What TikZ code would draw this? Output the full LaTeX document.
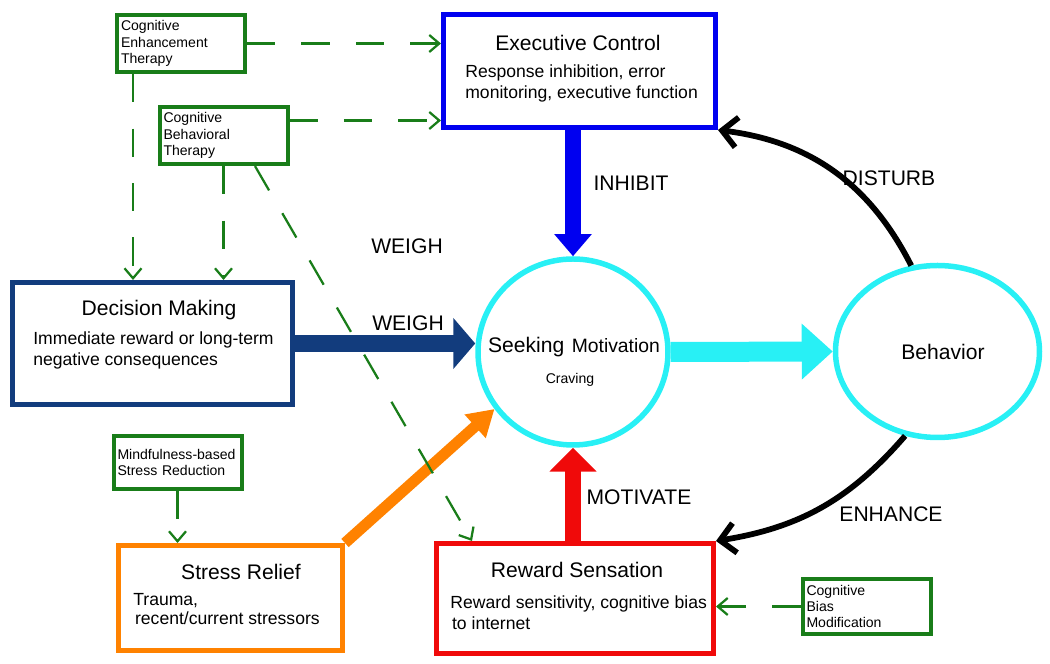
\documentclass[tikz,border=0pt]{standalone}
\usepackage{fontspec}
\setmainfont{Liberation Sans}
\usepackage{xcolor}
\usetikzlibrary{arrows.meta,positioning,calc,shapes.geometric}

\definecolor{ecblue}{RGB}{0,0,240}
\definecolor{dmnavy}{RGB}{18,60,125}
\definecolor{seekcyan}{RGB}{40,240,245}
\definecolor{rsred}{RGB}{240,10,10}
\definecolor{srorange}{RGB}{255,130,0}
\definecolor{tgreen}{RGB}{25,125,25}

\begin{document}
\begin{tikzpicture}[
  box/.style={draw=#1, line width=1mm},
  tbox/.style={draw=tgreen, line width=0.8mm, align=left, text width=24mm, inner xsep=0.8mm, font=\fontsize{8}{9.2}\selectfont},
  oval/.style={ellipse, draw=seekcyan, line width=1.1mm, inner sep=0pt},
  ttl/.style={font=\fontsize{12}{14}\selectfont},
  desc/.style={anchor=west, align=left, inner sep=0pt, font=\fontsize{10}{12}\selectfont},
  lbl/.style={font=\fontsize{12}{14}\selectfont},
  curv/.style={-{Straight Barb[length=3mm, width=6mm]}, line width=1.15mm},
  ther/.style={-{Straight Barb[length=2mm, width=3.4mm]}, draw=tgreen, line width=0.45mm, dash pattern=on 16pt off 15pt}]
\useasboundingbox (0,0) rectangle (21,13.28);
% main boxes
\node[box=ecblue, minimum width=5.44cm, minimum height=2.26cm] (ec) at (11.59,11.86) {};
\node[box=dmnavy, minimum width=5.6cm, minimum height=2.44cm] (dm) at (3.05,6.41) {};
\node[box=rsred, minimum width=5.54cm, minimum height=2.2cm] (rs) at (11.5,1.31) {};
\node[box=srorange, minimum width=4.48cm, minimum height=2.1cm] (sr) at (4.61,1.32) {};
\node[oval, minimum width=3.8cm, minimum height=3.72cm] (seek) at (11.46,6.24) {};
\node[oval, minimum width=4.08cm, minimum height=3.44cm] (beh) at (18.75,6.25) {};
% therapies
\node[tbox, minimum height=1.14cm] (cet) at (3.62,12.41) {Cognitive\\Enhancement\\Therapy};
\node[tbox, minimum height=1.14cm] (cbt) at (4.47,10.57) {Cognitive\\Behavioral\\Therapy};
\node[tbox, minimum height=1.06cm] (mbsr) at (3.55,4.03) {Mindfulness-based\\Stress Reduction};
\node[tbox, minimum height=1.1cm] (cbm) at (17.33,1.15) {Cognitive\\Bias\\Modification};
% texts in boxes
\node[ttl] (ectitle) at (11.56,12.42) {Executive Control};
\node[desc] (ecdesc) at (9.3,11.61) {Response inhibition, error\\monitoring, executive function};
\node[ttl] (dmtitle) at (3.18,7.08) {Decision Making};
\node[desc] (dmdesc) at (0.66,6.27) {Immediate reward or long-term\\negative consequences};
\node[ttl] (rstitle) at (11.54,1.88) {Reward Sensation};
\node[desc] (rsdesc) at (9.0,1.02) {Reward sensitivity, cognitive bias\\\hspace{0.1em}to internet};
\node[ttl] (srtitle) at (4.82,1.84) {Stress Relief};
\node[desc, font=\fontsize{10}{10.5}\selectfont] (srdesc) at (2.66,1.1) {Trauma,\\\hspace{0.1em}recent/current stressors};
\node[ttl] (seektxt) at (11.48,6.34) {Seeking\hspace{0.15cm}{\fontsize{11}{13}\selectfont Motivation}};
\node[font=\fontsize{8}{10}\selectfont] (crav) at (11.4,5.68) {Craving};
\node[ttl] (behtxt) at (18.86,6.24) {Behavior};
% block arrows
\draw[-{Triangle[length=4.4mm, width=10mm]}, line width=3.5mm, dmnavy] (dm.east) -- (dm.east -| seek.west);
\draw[-{Triangle[length=4.4mm, width=7.2mm]}, line width=3.2mm, ecblue] (seek.north |- ec.south) -- (seek.north);
\draw[-{Triangle[length=4.8mm, width=9.2mm]}, line width=3.2mm, rsred] (seek.south |- rs.north) -- (seek.south);
\draw[-{Triangle[length=6.2mm, width=10.8mm]}, line width=4mm, seekcyan] (seek.east) -- (beh.west);
\draw[-{Triangle[length=5.2mm, width=6mm]}, line width=2.2mm, srorange] (sr.north east) -- (seek.216);
% feedback
\draw[curv] (beh.107) to[bend right=28] (ec.south east);
\draw[curv] (beh.249) to[bend left=20] (rs.north east);
% therapy links
\coordinate (cetd) at ([xshift=3.6mm]cet.south west);
\coordinate (cbtr) at ([yshift=3mm]cbt.east);
\coordinate (cbtd) at ([xshift=6.3mm]cbt.south);
\coordinate (rsn) at ([xshift=7.6mm]rs.north west);
\draw[ther] (cet.east) -- (cet.east -| ec.west);
\draw[ther] (cbtr) -- (cbtr -| ec.west);
\draw[ther] (cetd) -- (cetd |- dm.north);
\draw[ther] (cbt.south) -- (cbt.south |- dm.north);
\draw[ther] (cbtd) -- (rsn);
\draw[ther] (mbsr.south) -- (mbsr.south |- sr.north);
\draw[ther] (cbm.west) -- (cbm.west -| rs.east);
% labels
\node[lbl] (lweigh) at (8.16,6.82) {WEIGH};
\node[lbl] (lweighb) at (8.14,8.36) {WEIGH};
\node[lbl] (linhibit) at (12.62,9.62) {INHIBIT};
\node[lbl] (lmotivate) at (12.78,3.34) {MOTIVATE};
\node[lbl] (ldisturb) at (17.78,9.72) {DISTURB};
\node[lbl] (lenhance) at (17.82,3.0) {ENHANCE};
\end{tikzpicture}
\end{document}
